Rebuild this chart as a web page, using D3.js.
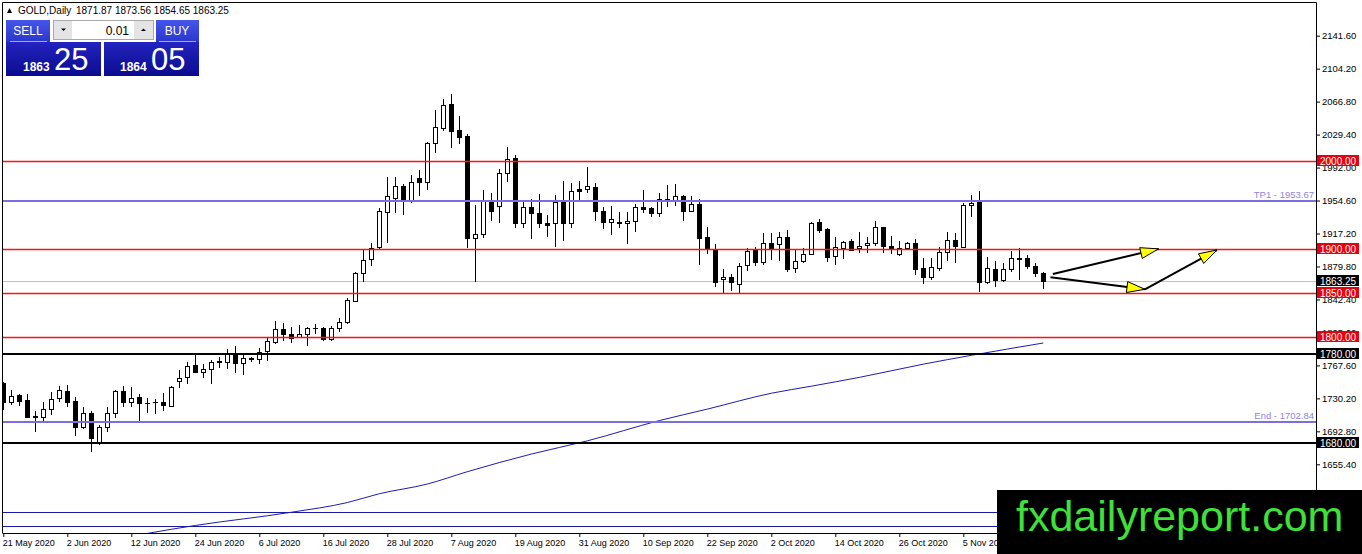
<!DOCTYPE html>
<html>
<head>
<meta charset="utf-8">
<script src="https://cdn.jsdelivr.net/npm/d3@7"></script>
<style>
body { margin: 0; background: #fff; }
svg text { font-family: "Liberation Sans", Arial, sans-serif; }
line.crisp { shape-rendering: crispEdges; }
</style>
</head>
<body>
<div id="chart"></div>
<script>
// daily GOLD candles, 21 May 2020 .. 19 Nov 2020
var opens = [1747.9,1725.9,1734,1728.3,1710.5,1709.4,1717.8,1730.9,1739,1727.2,1697.3,1713.2,1681,1697.3,1713.2,1738.5,1726.4,1731.4,1725.5,1725.6,
  1726,1721.5,1750.2,1754.1,1767.7,1760.4,1763.1,1772,1771.8,1781.3,1770,1775,1774.5,1784.2,1794.4,1808.5,1802.8,1799.8,1802.8,1810,
  1809.6,1797.1,1809.6,1816.5,1840.6,1872,1887.9,1902.2,1941.9,1957.8,1971.1,1955.2,1979.8,1976,2019.5,2037.2,2064.1,2034.6,2027.8,1911.7,
  1916.3,1953.3,1948.4,1985.5,2002.5,1928.8,1946.9,1940.1,1928.8,1928.8,1953.3,1929.4,1967.7,1967.3,1969.6,1942.7,1930.6,1930.6,1928.8,1931.7,
  1947.6,1945.8,1940.1,1956,1955.2,1959.7,1943,1950.7,1912.8,1899.5,1865.2,1867.5,1859.9,1881.5,1898.5,1885.2,1906.8,1904.9,1912.9,1877.7,
  1886.3,1893.6,1929.9,1922,1891.7,1901.1,1908.7,1900.4,1903.8,1906.8,1924.2,1903.4,1893.6,1901.1,1906.1,1877.7,1867.5,1877.7,1895.9,1909.8,
  1902.2,1949.5,1953.3,1862.5,1876.6,1864.4,1876.6,1889,1889,1880.3,1871.87];
var highs = [1748.5,1739.7,1735,1735,1715.6,1726.4,1737,1744.2,1745.3,1732.1,1720.7,1715.8,1700,1720,1739.7,1744.2,1742.8,1735,1730.2,1729.1,
  1736.6,1744.2,1762.4,1771.1,1780.2,1768.8,1773.7,1776.8,1785.8,1789.6,1779.4,1777.5,1787,1798.3,1817.9,1815.3,1810.8,1813.4,1811.5,1814.9,
  1811.5,1812.6,1821,1844.4,1873.2,1898.5,1906.1,1945.8,1981.6,1981.6,1973,1983.6,1989.2,2021.3,2057.3,2069.8,2075.1,2050.5,2029.7,1949.5,
  1966.5,1962.8,1990,2015.7,2006.2,1953.3,1956,1962,1938.2,1960.9,1976.7,1974.8,1976.7,1993,1974.1,1947.6,1948.4,1941.9,1941.9,1950.7,
  1966.5,1947.6,1963.5,1972.2,1973.3,1960.9,1959.7,1956,1924.9,1905,1876.6,1871.2,1884.1,1900.4,1902.2,1917.4,1917.4,1918.5,1921.2,1898.5,
  1900.4,1930.6,1933.3,1923.1,1912.9,1908.7,1910.6,1919.2,1912.9,1931.4,1924.9,1914.4,1908.7,1907.9,1910.6,1889,1889,1902.2,1918.5,1918.1,
  1952.1,1960.9,1965.4,1890.2,1886.3,1883.4,1897.7,1900.4,1892.8,1883.4,1873.56];
var lows = [1717,1723,1721.5,1708.6,1692.3,1704.8,1711.3,1726.4,1720.7,1687.8,1696,1669.7,1677,1691.7,1707.5,1720.7,1720.7,1704.8,1713.2,1712,
  1716,1720.7,1742.3,1747,1759.3,1752.9,1746.5,1765,1763,1758.6,1756.7,1771.8,1769.2,1772.6,1791.5,1795.2,1793.3,1798.3,1789.9,1802.8,
  1795.2,1795.2,1805.1,1814.9,1839.2,1862.5,1880.7,1899.6,1906.8,1940.8,1938.2,1951.4,1959.7,1966.5,2008.2,2033.8,2014.5,2018.7,1900.4,1862.5,
  1912.4,1931.4,1929.4,1976,1923.8,1923.8,1911,1923.8,1913.6,1902.2,1909,1923.1,1955.2,1962.8,1931.7,1922,1915.5,1923.1,1905.3,1919.2,
  1940.8,1936.2,1936.2,1947.6,1948.4,1931.7,1943,1881.5,1894,1856.2,1848.6,1852.3,1849.4,1875,1880.3,1881.5,1887.1,1886.3,1873.9,1872.7,
  1884.1,1892.8,1918.1,1885.2,1881.5,1888.3,1897.7,1894.7,1894.7,1903,1894.7,1894,1891.7,1900.4,1870.1,1859.9,1864.4,1875,1886.3,1883.4,
  1902.2,1935.6,1850.5,1859.9,1856.2,1861.8,1873.9,1864.4,1876.6,1868,1854.65];
var closes = [1726.4,1733.2,1727.5,1709.4,1709,1717.8,1729.1,1739.7,1726.4,1698,1713.2,1684.9,1698,1713.2,1738.5,1726.4,1730.6,1724.6,1725,1726,
  1722.3,1742.8,1753.6,1767.3,1760.4,1763.5,1771.8,1772.5,1780.2,1770,1775.6,1775.5,1783.1,1795.2,1808.5,1802.8,1798.3,1802.8,1809.6,1809.6,
  1797.5,1809.6,1817.1,1841.4,1872,1887.1,1901.1,1942.7,1959.7,1971.1,1955.2,1975.3,1976,2019.5,2037.7,2063,2033.8,2027,1911.7,1916.3,
  1955.2,1942.7,1985.5,2001.4,1928.8,1946.9,1940.1,1928.8,1927.2,1953.3,1928.8,1965.4,1965.7,1971.1,1943,1929.9,1933.6,1928.8,1931.7,1947.6,
  1945,1940.1,1956,1956.5,1959.7,1943,1950.7,1912.4,1900,1862.5,1867.5,1861.8,1880.7,1897.3,1885.2,1906.1,1899.3,1912.9,1876.6,1886.3,
  1893.9,1929.4,1921.2,1890.9,1901.5,1907.9,1898.5,1903.4,1906.8,1924.2,1903.4,1900.4,1901.1,1906.8,1876.6,1867.5,1878.9,1895.9,1909.8,1903,
  1949.5,1952.1,1862.5,1877.7,1864.4,1876.6,1889,1888,1880.3,1872.1,1863.25];

// moving average, read at a few bars
var maBars = [14, 18, 24, 36, 43, 47, 53, 58, 66, 73, 82, 88, 96, 101, 107, 115, 121, 130];
var maValues = [1570, 1577, 1586, 1601, 1612, 1622, 1633, 1647, 1667, 1682, 1705, 1718, 1736, 1744, 1754, 1769, 1779, 1793];

var priceTicks = [2141.6, 2104.2, 2066.8, 2029.4, 1992.0, 1954.6, 1917.2, 1879.8, 1842.4, 1805.0, 1767.6, 1730.2, 1692.8, 1655.4];
var dateTicks = [0, 8, 16, 24, 32, 40, 48, 56, 64, 72, 80, 88, 96, 104, 112, 120];
var dateLabels = ["21 May 2020", "2 Jun 2020", "12 Jun 2020", "24 Jun 2020", "6 Jul 2020", "16 Jul 2020", "28 Jul 2020",
  "7 Aug 2020", "19 Aug 2020", "31 Aug 2020", "10 Sep 2020", "22 Sep 2020", "2 Oct 2020", "14 Oct 2020",
  "26 Oct 2020", "5 Nov 2020"];

var redLevels = [2000, 1900, 1850, 1800];
var blackLevels = [1780, 1680];
var violetLevels = [1953.67, 1702.84];
var violetNames = ["TP1", "End"];
var blueLevels = [1601, 1585.5];
var bidPrice = 1863.25;

// hand drawn arrows: [bar, price] -> [bar, price]
var arrowFromBars = [131.2, 130.9, 142.7];
var arrowFromPrices = [1871.2, 1867.5, 1853.9];
var arrowToBars = [144.4, 142.7, 151.7];
var arrowToPrices = [1899.8, 1853.9, 1898.5];

var W = 1362, H = 554;
var plotLeft = 3, plotTop = 3, plotRight = 1316, plotBottom = 533;

var svg = d3.select("#chart").append("svg")
    .attr("width", W)
    .attr("height", H)
    .style("display", "block");

svg.append("rect").attr("width", W).attr("height", H).attr("fill", "#fff");

var x = d3.scaleLinear().domain([0, 130]).range([3.3, 1043.3]);
var y = d3.scaleLinear().domain([1655.4, 2141.6]).range([464.3, 35.7]);

function py(v) { return Math.round(y(v)) + 0.5; }
function px(i) { return Math.round(x(i)) + 0.5; }

svg.append("clipPath").attr("id", "plot")
  .append("rect")
    .attr("x", plotLeft).attr("y", plotTop)
    .attr("width", plotRight - plotLeft).attr("height", plotBottom - plotTop);

var plot = svg.append("g").attr("clip-path", "url(#plot)");

// price axis
var yAxis = svg.append("g")
    .attr("transform", "translate(" + plotRight + ",0)")
    .call(d3.axisRight(y).tickValues(priceTicks).tickSize(4).tickPadding(2).tickFormat(d3.format(".2f")));
yAxis.select(".domain").remove();
yAxis.selectAll("text").attr("font-size", 9.5).attr("fill", "#000").attr("font-family", "Liberation Sans, Arial, sans-serif");
yAxis.selectAll("line").attr("stroke", "#000");

// date axis
var xAxis = svg.append("g")
    .attr("transform", "translate(0," + plotBottom + ")")
    .call(d3.axisBottom(x).tickValues(dateTicks).tickSize(4).tickFormat(function(d, i) { return dateLabels[i]; }));
xAxis.select(".domain").remove();
xAxis.selectAll("text").attr("font-size", 9).attr("fill", "#000")
    .attr("text-anchor", "start").attr("x", -1).attr("y", 7)
    .attr("font-family", "Liberation Sans, Arial, sans-serif");
xAxis.selectAll("line").attr("stroke", "#000");

// horizontal levels
plot.selectAll("line.blue").data(blueLevels).enter().append("line")
    .attr("class", "crisp blue")
    .attr("x1", plotLeft).attr("x2", plotRight)
    .attr("y1", py).attr("y2", py)
    .style("stroke", "#1a1aa6").style("stroke-width", 1);

plot.append("line")
    .attr("class", "crisp bid")
    .attr("x1", plotLeft).attr("x2", plotRight)
    .attr("y1", py(bidPrice)).attr("y2", py(bidPrice))
    .style("stroke", "#c0c0c0").style("stroke-width", 1);

// moving average
var maLine = d3.line()
    .x(function(d, i) { return x(maBars[i]); })
    .y(function(d) { return y(d); })
    .curve(d3.curveMonotoneX);
plot.append("path")
    .datum(maValues)
    .attr("d", maLine)
    .attr("fill", "none")
    .attr("stroke", "#1c1cb4")
    .attr("stroke-width", 1);

// candles
var bars = d3.range(opens.length);
var candle = plot.selectAll("g.candle").data(bars).enter().append("g").attr("class", "candle");
candle.append("line")
    .attr("x1", px).attr("x2", px)
    .attr("y1", function(i) { return Math.round(y(highs[i])); })
    .attr("y2", function(i) { return Math.round(y(lows[i])); })
    .attr("stroke", "#000").attr("stroke-width", 1);
candle.append("rect")
    .attr("x", function(i) { return Math.round(x(i)) - 1.5; })
    .attr("width", 4)
    .attr("y", function(i) { return Math.round(y(Math.max(opens[i], closes[i]))) + 0.5; })
    .attr("height", function(i) { return Math.max(0.01, Math.round(y(Math.min(opens[i], closes[i]))) - Math.round(y(Math.max(opens[i], closes[i])))); })
    .attr("fill", function(i) { return closes[i] < opens[i] ? "#000" : "#fff"; })
    .attr("stroke", "#000").attr("stroke-width", 1);

// red levels: a touch wider so they keep their colour in the photo
plot.selectAll("line.red").data(redLevels).enter().append("line")
    .attr("class", "red")
    .attr("x1", plotLeft).attr("x2", plotRight)
    .attr("y1", py).attr("y2", py)
    .style("stroke", "#ff1010").style("stroke-width", 1.6);

plot.selectAll("line.violet").data(violetLevels).enter().append("line")
    .attr("class", "crisp violet")
    .attr("x1", plotLeft).attr("x2", plotRight)
    .attr("y1", function(d) { return Math.round(y(d)); })
    .attr("y2", function(d) { return Math.round(y(d)); })
    .style("stroke", "#7b6fe0").style("stroke-width", 2);

plot.selectAll("text.violetLabel").data(violetLevels).enter().append("text")
    .attr("class", "violetLabel")
    .attr("x", plotRight - 2)
    .attr("y", function(d) { return Math.round(y(d)) - 3; })
    .attr("text-anchor", "end")
    .attr("font-size", 9.5)
    .attr("fill", "#8d84e6")
    .text(function(d, i) { return violetNames[i] + " - " + d.toFixed(2); });

plot.selectAll("line.black").data(blackLevels).enter().append("line")
    .attr("class", "crisp black")
    .attr("x1", plotLeft).attr("x2", plotRight)
    .attr("y1", function(d) { return Math.round(y(d)); })
    .attr("y2", function(d) { return Math.round(y(d)); })
    .style("stroke", "#000").style("stroke-width", 2);

// arrows
var arrows = d3.range(arrowFromBars.length).map(function(k) {
  return {x1: x(arrowFromBars[k]), y1: y(arrowFromPrices[k]), x2: x(arrowToBars[k]), y2: y(arrowToPrices[k])};
});
var ag = plot.selectAll("g.arrow").data(arrows).enter().append("g").attr("class", "arrow");
ag.append("line")
    .attr("x1", function(d) { return d.x1; }).attr("y1", function(d) { return d.y1; })
    .attr("x2", function(d) { return d.x2; }).attr("y2", function(d) { return d.y2; })
    .attr("stroke", "#000").attr("stroke-width", 2);
ag.append("path")
    .attr("d", function(d) {
      var dx = d.x2 - d.x1, dy = d.y2 - d.y1, len = Math.sqrt(dx * dx + dy * dy);
      var ux = dx / len, uy = dy / len, bx = d.x2 - ux * 18, by = d.y2 - uy * 18;
      return "M" + d.x2 + "," + d.y2 +
        "L" + (bx - uy * 5.5) + "," + (by + ux * 5.5) +
        "L" + (bx + uy * 5.5) + "," + (by - ux * 5.5) + "Z";
    })
    .attr("fill", "#ffff00")
    .attr("stroke", "#000").attr("stroke-width", 1);

// frame
svg.append("path")
    .attr("d", "M" + (plotLeft - 0.5) + "," + plotBottom + "V" + (plotTop - 0.5) + "H" + (plotRight + 0.5) + "V" + (plotBottom + 0.5) + "H" + (plotLeft - 0.5))
    .attr("fill", "none").attr("stroke", "#000").attr("stroke-width", 1);

// level tags on the price axis
function tag(v, color) {
  var g = svg.append("g");
  g.append("rect")
      .attr("x", plotRight + 1).attr("y", Math.round(y(v)) - 6)
      .attr("width", 42).attr("height", 11)
      .attr("fill", color);
  g.append("text")
      .attr("x", plotRight + 4).attr("y", Math.round(y(v)) + 4)
      .attr("font-size", 10).attr("fill", "#fff")
      .text(v.toFixed(2));
}
redLevels.forEach(function(v) { tag(v, "#e8000b"); });
blackLevels.forEach(function(v) { tag(v, "#000"); });
tag(bidPrice, "#000");

// title
svg.append("path").attr("d", "M7,13L9.5,8L12,13Z").attr("fill", "#000");
svg.append("text").attr("x", 18).attr("y", 14).attr("font-size", 10).text("GOLD,Daily");
svg.append("text").attr("x", 76).attr("y", 14).attr("font-size", 10)
    .text([opens[130], highs[130], lows[130], closes[130]].map(function(v) { return v.toFixed(2); }).join(" "));

// one click trading panel
var defs = svg.append("defs");
var g1 = defs.append("linearGradient").attr("id", "btn").attr("x1", 0).attr("y1", 0).attr("x2", 0).attr("y2", 1);
g1.append("stop").attr("offset", 0).attr("stop-color", "#4656ea");
g1.append("stop").attr("offset", 1).attr("stop-color", "#2a36cc");
var g2 = defs.append("linearGradient").attr("id", "box").attr("x1", 0).attr("y1", 0).attr("x2", 0).attr("y2", 1);
g2.append("stop").attr("offset", 0).attr("stop-color", "#2323c0");
g2.append("stop").attr("offset", 1).attr("stop-color", "#0b0b8e");

var panel = svg.append("g");
panel.append("rect").attr("x", 6).attr("y", 20).attr("width", 44).attr("height", 22).attr("fill", "url(#btn)");
panel.append("rect").attr("x", 156).attr("y", 20).attr("width", 43).attr("height", 22).attr("fill", "url(#btn)");
panel.append("rect").attr("x", 6).attr("y", 42).attr("width", 95).attr("height", 34).attr("fill", "url(#box)");
panel.append("rect").attr("x", 104).attr("y", 42).attr("width", 95).attr("height", 34).attr("fill", "url(#box)");
panel.append("line").attr("x1", 10).attr("x2", 47).attr("y1", 41.5).attr("y2", 41.5).attr("stroke", "#9aa6ff");
panel.append("line").attr("x1", 159).attr("x2", 196).attr("y1", 41.5).attr("y2", 41.5).attr("stroke", "#9aa6ff");
panel.append("text").attr("x", 28).attr("y", 35).attr("text-anchor", "middle").attr("font-size", 12).attr("fill", "#fff").text("SELL");
panel.append("text").attr("x", 177).attr("y", 35).attr("text-anchor", "middle").attr("font-size", 12).attr("fill", "#fff").text("BUY");

panel.append("rect").attr("x", 53.5).attr("y", 20.5).attr("width", 100).attr("height", 19).attr("fill", "#fff").attr("stroke", "#a8a8a8");
panel.append("rect").attr("x", 54).attr("y", 21).attr("width", 18).attr("height", 18).attr("fill", "#e4e4e4");
panel.append("rect").attr("x", 134).attr("y", 21).attr("width", 19).attr("height", 18).attr("fill", "#e4e4e4");
panel.append("path").attr("d", "M61,28.5H66L63.5,31Z").attr("fill", "#000");
panel.append("path").attr("d", "M141,31H146L143.5,28.5Z").attr("fill", "#000");
panel.append("text").attr("x", 129).attr("y", 35).attr("text-anchor", "end").attr("font-size", 12).attr("fill", "#000").text("0.01");

panel.append("text").attr("x", 23).attr("y", 71).attr("font-size", 12).attr("font-weight", "bold").attr("fill", "#fff").text("1863");
panel.append("text").attr("x", 54).attr("y", 70).attr("font-size", 31).attr("fill", "#fff").text("25");
panel.append("text").attr("x", 120).attr("y", 71).attr("font-size", 12).attr("font-weight", "bold").attr("fill", "#fff").text("1864");
panel.append("text").attr("x", 151).attr("y", 70).attr("font-size", 31).attr("fill", "#fff").text("05");

// watermark
svg.append("rect").attr("x", 997).attr("y", 490).attr("width", W - 997).attr("height", H - 490).attr("fill", "#000");
svg.append("text").attr("x", 1016).attr("y", 531).attr("font-size", 43).attr("fill", "#3fe03a")
    .attr("font-family", "Liberation Sans, Arial, sans-serif").text("fxdailyreport.com");
</script>
</body>
</html>
